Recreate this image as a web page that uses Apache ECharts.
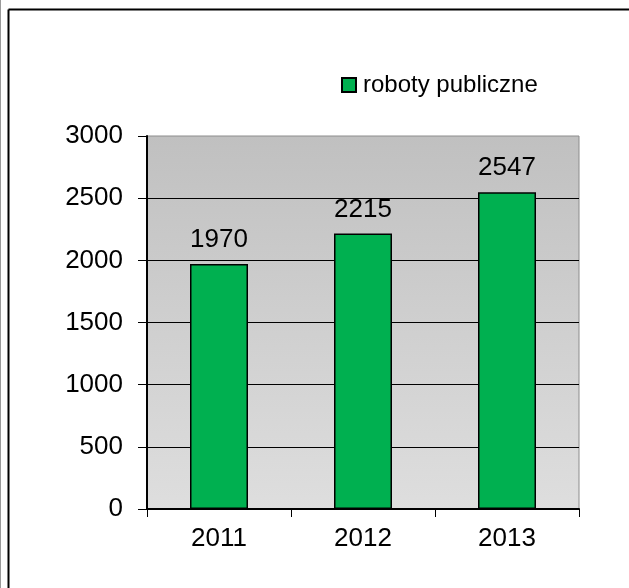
<!DOCTYPE html>
<html>
<head>
<meta charset="utf-8">
<script src="https://cdn.jsdelivr.net/npm/echarts@6/dist/echarts.min.js"></script>
<style>
html,body{margin:0;padding:0;background:#fff;}
#c{width:629px;height:588px;}
</style>
</head>
<body>
<div id="c"></div>
<script>
const categories = ['2011', '2012', '2013'];
const seriesName = 'roboty publiczne';
const values = [1970, 2215, 2547];
const yTicks = { min: 0, max: 3000, interval: 500 };

const FONT = '"Liberation Sans", Arial, sans-serif';
const chart = echarts.init(document.getElementById('c'), null, { renderer: 'canvas' });
chart.setOption({
  animation: false,
  backgroundColor: '#fff',
  textStyle: { fontFamily: FONT },
  graphic: [
    { type: 'line', shape: { x1: 0.5, y1: 0, x2: 0.5, y2: 588 }, style: { stroke: '#9a9a9a', lineWidth: 1 } },
    { type: 'line', shape: { x1: 8.5, y1: 9.5, x2: 629, y2: 9.5 }, style: { stroke: '#000', lineWidth: 2 } },
    { type: 'line', shape: { x1: 8.5, y1: 9.5, x2: 8.5, y2: 588 }, style: { stroke: '#000', lineWidth: 2 } }
  ],
  legend: {
    left: 336, top: 68,
    itemWidth: 14, itemHeight: 14,
    itemGap: 0,
    textStyle: { fontSize: 24, color: '#000', fontFamily: FONT, padding: [0, 0, 0, 2] },
    data: [{ name: seriesName, icon: 'rect' }]
  },
  grid: {
    left: 147, top: 136, right: 50, bottom: 79,
    show: true,
    borderColor: '#8c8c8c', borderWidth: 1,
    backgroundColor: new echarts.graphic.LinearGradient(0, 0, 0, 1, [
      { offset: 0, color: '#c0c0c0' },
      { offset: 1, color: '#dedede' }
    ])
  },
  xAxis: {
    type: 'category',
    data: categories,
    axisLine: { lineStyle: { color: '#000', width: 2 } },
    axisTick: { show: true, length: 8, inside: false, lineStyle: { color: '#000', width: 1 } },
    axisLabel: { fontSize: 26, color: '#000', margin: 17, fontFamily: FONT }
  },
  yAxis: {
    type: 'value',
    min: yTicks.min, max: yTicks.max, interval: yTicks.interval,
    axisLine: { show: true, lineStyle: { color: '#000', width: 2 } },
    axisTick: { show: true, length: 9, lineStyle: { color: '#000', width: 1 } },
    axisLabel: { fontSize: 26, color: '#000', margin: 24, fontFamily: FONT, formatter: v => String(v) },
    splitLine: { show: true, showMaxLine: false, lineStyle: { color: '#000', width: 1 } }
  },
  series: [{
    name: seriesName,
    type: 'bar',
    data: values,
    barWidth: 58,
    itemStyle: { color: '#00b050', borderColor: '#000', borderWidth: 1.5 },
    label: { show: true, position: 'top', distance: 11, fontSize: 26, color: '#000', fontFamily: FONT }
  }]
});
</script>
</body>
</html>
